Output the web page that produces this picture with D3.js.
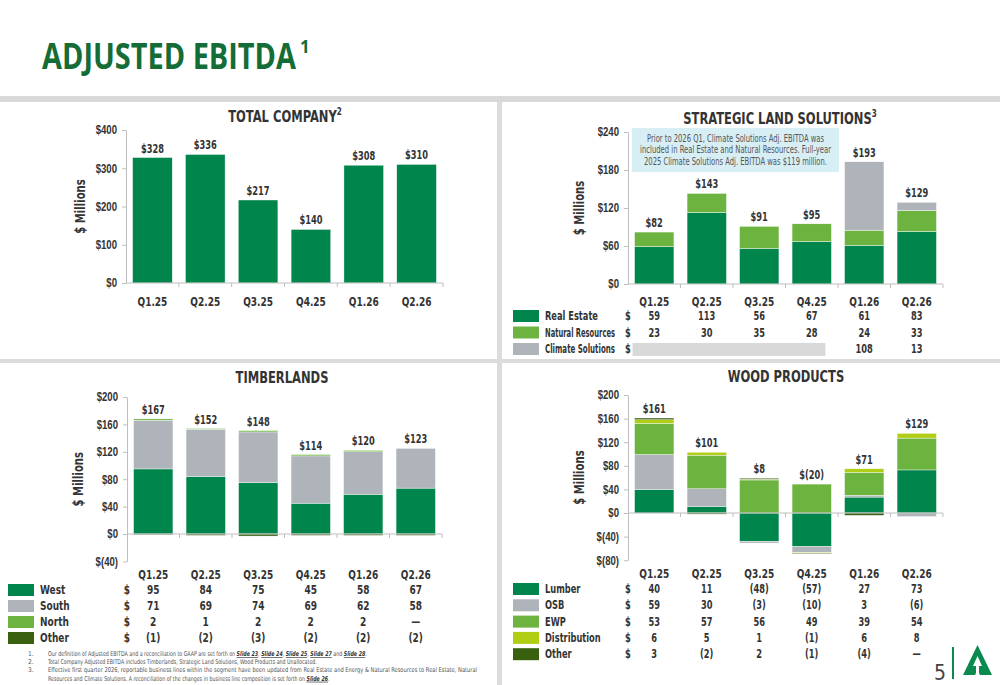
<!DOCTYPE html>
<html>
<head>
<meta charset="utf-8">
<script src="https://cdn.jsdelivr.net/npm/d3@7"></script>
<style>
  body { margin: 0; background: #fff; }
  svg { display: block; font-family: "DejaVu Sans Condensed", "Liberation Sans Narrow", "Open Sans", sans-serif; }
</style>
</head>
<body>
<div id="chart"></div>
<script>
//==================================//
// Data
//
const quarters = ['Q1.25', 'Q2.25', 'Q3.25', 'Q4.25', 'Q1.26', 'Q2.26'];

const totalCompany = [328, 336, 217, 140, 308, 310];

const slsRealEstate = [59, 113, 56, 67, 61, 83];
const slsNaturalRes = [23, 30, 35, 28, 24, 33];
const slsClimate = [null, null, null, null, 108, 13];
const slsTotals = [82, 143, 91, 95, 193, 129];

const tlWest = [95, 84, 75, 45, 58, 67];
const tlSouth = [71, 69, 74, 69, 62, 58];
const tlNorth = [2, 1, 2, 2, 2, 0];
const tlOther = [-1, -2, -3, -2, -2, -2];
const tlTotals = [167, 152, 148, 114, 120, 123];

const wpLumber = [40, 11, -48, -57, 27, 73];
const wpOSB = [59, 30, -3, -10, 3, -6];
const wpEWP = [53, 57, 56, 49, 39, 54];
const wpDistribution = [6, 5, 1, -1, 6, 8];
const wpOther = [3, -2, 2, -1, -4, 0];
const wpTotals = [161, 101, 8, -20, 71, 129];

const totalTicks = [0, 100, 200, 300, 400];
const slsTicks = [0, 60, 120, 180, 240];
const tlTicks = [-40, 0, 40, 80, 120, 160, 200];
const wpTicks = [-80, -40, 0, 40, 80, 120, 160, 200];

const C = {
    green: '#00854c',
    light: '#6cb33f',
    gray: '#aeb4b9',
    yellow: '#b2ce14',
    dark: '#38600e',
    text: '#333',
    axis: '#bfbfbf'
};

const SQUEEZE = 0.8;   // the slide uses a narrow face; DejaVu Condensed is still wider

const money = d => d < 0 ? '$(' + (-d) + ')' : '$' + d;
const cell = d => d == null ? '' : d === 0 ? '\u2014' : d < 0 ? '(' + (-d) + ')' : String(d);

//==================================//
// SVG + frame
//
const svg = d3.select('#chart').append('svg').attr('width', 1000).attr('height', 685);

svg.append('rect').attr('x', 0).attr('y', 96).attr('width', 1000).attr('height', 6).attr('fill', '#d9d9d9');
svg.append('rect').attr('x', 497).attr('y', 102).attr('width', 5).attr('height', 583).attr('fill', '#dcdcdc');
svg.append('rect').attr('x', 0).attr('y', 359).attr('width', 1000).attr('height', 4).attr('fill', '#dcdcdc');

svg.append('text').attr('class', 'fixed').attr('x', 42).attr('y', 69).attr('fill', '#146c37')
    .style('font-family', '"Open Sans", sans-serif').style('font-weight', 700).style('font-size', '35px')
    .attr('textLength', 254).attr('lengthAdjust', 'spacingAndGlyphs').text('ADJUSTED EBITDA');
svg.append('text').attr('class', 'fixed').attr('x', 300).attr('y', 53).attr('fill', '#146c37')
    .style('font-family', '"Open Sans", sans-serif').style('font-weight', 700).style('font-size', '17px').text('1');

//==================================//
// Panel helper
//
function panel(cfg) {
    const g = svg.append('g');

    const x = d3.scaleBand().domain(quarters).range([cfg.x0, cfg.x1]).paddingInner(0.25).paddingOuter(0.125);
    const y = d3.scaleLinear().domain([cfg.ticks[0], cfg.ticks[cfg.ticks.length - 1]]).range([cfg.yBottom, cfg.yTop]);

    // title
    const t = g.append('text').attr('x', cfg.titleX).attr('y', cfg.titleY).attr('text-anchor', 'middle')
        .attr('fill', C.text).style('font-size', '16px').style('font-weight', 700).text(cfg.title);
    if (cfg.sup) t.append('tspan').attr('dy', -7).style('font-size', '10px').text(cfg.sup);

    // y label
    g.append('text').attr('transform', 'translate(' + cfg.labelX + ',' + ((cfg.yTop + cfg.yBottom) / 2) + ') rotate(-90)')
        .attr('text-anchor', 'middle').attr('fill', C.text).style('font-size', '14px').style('font-weight', 700)
        .text('$ Millions');

    // y axis
    const ya = g.append('g').attr('transform', 'translate(' + cfg.x0 + ',0)')
        .call(d3.axisLeft(y).tickValues(cfg.ticks).tickFormat(money).tickSize(4).tickSizeOuter(0).tickPadding(5));
    ya.select('.domain').attr('stroke', C.axis);
    ya.selectAll('.tick line').attr('stroke', C.axis);
    ya.selectAll('.tick text').attr('fill', C.text).style('font-size', '12px').style('font-weight', 700).style('font-family', null);

    // bars
    const gap = (x.step() - x.bandwidth()) / 2;
    let tops;
    if (cfg.stacked) {
        const rows = quarters.map((q, i) => {
            const r = { q: q };
            cfg.series.forEach(s => { r[s.name] = s.values[i] || 0; });
            return r;
        });
        const stacked = d3.stack().keys(cfg.series.map(s => s.name)).offset(d3.stackOffsetDiverging)(rows);
        g.selectAll('g.layer').data(stacked).enter().append('g').attr('class', 'layer')
            .attr('fill', (d, i) => cfg.series[i].color)
            .selectAll('rect').data(d => d).enter().append('rect')
            .attr('x', d => x(d.data.q))
            .attr('width', x.bandwidth())
            .attr('y', d => y(Math.max(d[0], d[1])))
            .attr('height', d => Math.abs(y(d[0]) - y(d[1])))
            .attr('stroke', '#fff').attr('stroke-width', 0.4);
        tops = quarters.map((q, i) => d3.sum(cfg.series, s => Math.max(0, s.values[i] || 0)));
    } else {
        g.selectAll('rect.bar').data(cfg.values).enter().append('rect').attr('class', 'bar')
            .attr('x', (d, i) => x(quarters[i]))
            .attr('width', x.bandwidth())
            .attr('y', d => y(d))
            .attr('height', d => y(0) - y(d))
            .attr('fill', C.green).attr('stroke', '#fff').attr('stroke-width', 0.4);
        tops = cfg.values;
    }

    // x axis line at zero
    g.append('line').attr('x1', cfg.x0).attr('x2', cfg.x1).attr('y1', y(0)).attr('y2', y(0)).attr('stroke', C.axis);
    g.selectAll('line.xt').data(quarters.slice(1).map(q => x(q) - gap).concat([cfg.x1])).enter().append('line')
        .attr('class', 'xt').attr('x1', d => d).attr('x2', d => d).attr('y1', y(0)).attr('y2', y(0) + 4).attr('stroke', C.axis);

    // value labels
    g.selectAll('text.val').data(cfg.totals).enter().append('text').attr('class', 'val')
        .attr('x', (d, i) => x(quarters[i]) + x.bandwidth() / 2)
        .attr('y', (d, i) => y(tops[i]) - 5)
        .attr('text-anchor', 'middle').attr('fill', C.text).style('font-size', '11.5px').style('font-weight', 700)
        .text(money);

    // quarter header
    g.selectAll('text.q').data(quarters).enter().append('text').attr('class', 'q')
        .attr('x', d => x(d) + x.bandwidth() / 2).attr('y', cfg.headerY)
        .attr('text-anchor', 'middle').attr('fill', C.text).style('font-size', '12.5px').style('font-weight', 700)
        .text(d => d);

    // table
    if (cfg.series) {
        const labelX = cfg.swatchX + 32;
        const maxW = cfg.x0 - 13 - labelX;
        cfg.series.forEach((s, r) => {
            const ry = cfg.tableY + r * cfg.rowH;
            g.append('rect').attr('x', cfg.swatchX).attr('y', ry - 6).attr('width', 26).attr('height', 12).attr('fill', s.color);
            g.append('text').attr('class', 'fixed').attr('x', labelX).attr('y', ry + 4).attr('fill', C.text)
                .style('font-size', cfg.tableFont).style('font-weight', 700).text(s.name)
                .each(function () {
                    const w = Math.min(this.getComputedTextLength() * SQUEEZE, maxW);
                    d3.select(this).attr('textLength', w).attr('lengthAdjust', 'spacingAndGlyphs');
                });
            g.append('text').attr('x', cfg.x0).attr('y', ry + 4).attr('text-anchor', 'middle').attr('fill', C.text)
                .style('font-size', cfg.tableFont).style('font-weight', 700).text('$');
            if (s.placeholder) {
                g.append('rect').attr('x', x(quarters[0]) - 2).attr('y', ry - 6)
                    .attr('width', x(quarters[3]) + x.bandwidth() - 6 - x(quarters[0]) + 2).attr('height', 13)
                    .attr('fill', '#d9d9d9');
            }
            g.selectAll(null).data(s.values).enter().append('text')
                .attr('x', (d, i) => x(quarters[i]) + x.bandwidth() / 2).attr('y', ry + 4)
                .attr('text-anchor', 'middle').attr('fill', C.text).style('font-size', cfg.tableFont).style('font-weight', 700)
                .text(cell);
        });
    }
    return { g: g, x: x, y: y };
}

//==================================//
// Panels
//
panel({
    title: 'TOTAL COMPANY', sup: '2', titleX: 285, titleY: 122,
    x0: 126, x1: 443, yTop: 130, yBottom: 283, ticks: totalTicks, labelX: 85,
    values: totalCompany, totals: totalCompany, headerY: 306
});

const sls = panel({
    title: 'STRATEGIC LAND SOLUTIONS', sup: '3', titleX: 780, titleY: 124,
    x0: 628, x1: 943, yTop: 132, yBottom: 284, ticks: slsTicks, labelX: 584,
    stacked: true, totals: slsTotals, headerY: 306,
    series: [
        { name: 'Real Estate', values: slsRealEstate, color: C.green },
        { name: 'Natural Resources', values: slsNaturalRes, color: C.light },
        { name: 'Climate Solutions', values: slsClimate, color: C.gray, placeholder: true }
    ],
    swatchX: 513, tableY: 316, rowH: 16.5, tableFont: '11.5px'
});

// note box
sls.g.append('rect').attr('x', 632).attr('y', 128).attr('width', 207).attr('height', 44).attr('fill', '#d8eef5');
sls.g.selectAll('text.note').data([
    ['Prior to 2026 Q1, Climate Solutions Adj. EBITDA was', 177],
    ['included in Real Estate and Natural Resources. Full-year', 191],
    ['2025 Climate Solutions Adj. EBITDA was $119 million.', 183]
]).enter().append('text').attr('class', 'note fixed')
    .attr('x', 735.5).attr('y', (d, i) => 142 + i * 11.3).attr('text-anchor', 'middle')
    .attr('textLength', d => d[1]).attr('lengthAdjust', 'spacingAndGlyphs')
    .attr('fill', '#555').style('font-size', '10px').text(d => d[0]);

panel({
    title: 'TIMBERLANDS', titleX: 282, titleY: 383,
    x0: 127, x1: 442, yTop: 397, yBottom: 561.4, ticks: tlTicks, labelX: 83,
    stacked: true, totals: tlTotals, headerY: 579,
    series: [
        { name: 'West', values: tlWest, color: C.green },
        { name: 'South', values: tlSouth, color: C.gray },
        { name: 'North', values: tlNorth, color: C.light },
        { name: 'Other', values: tlOther, color: C.dark }
    ],
    swatchX: 8, tableY: 590, rowH: 16, tableFont: '12.5px'
});

panel({
    title: 'WOOD PRODUCTS', titleX: 786, titleY: 382,
    x0: 628, x1: 943, yTop: 395, yBottom: 560.2, ticks: wpTicks, labelX: 584,
    stacked: true, totals: wpTotals, headerY: 578,
    series: [
        { name: 'Lumber', values: wpLumber, color: C.green },
        { name: 'OSB', values: wpOSB, color: C.gray },
        { name: 'EWP', values: wpEWP, color: C.light },
        { name: 'Distribution', values: wpDistribution, color: C.yellow },
        { name: 'Other', values: wpOther, color: C.dark }
    ],
    swatchX: 513, tableY: 589, rowH: 16.3, tableFont: '11.5px'
});

//==================================//
// Footnotes (squeezed with a transform, since they mix tspans)
//
const notes = [
    { n: '1.', parts: [['Our definition of Adjusted EBITDA and a reconciliation to GAAP are set forth on ', 0], ['Slide 23', 1], [', ', 0], ['Slide 24', 1], [', ', 0], ['Slide 25', 1], [', ', 0], ['Slide 27', 1], [' and ', 0], ['Slide 28', 1], ['.', 0]] },
    { n: '2.', parts: [['Total Company Adjusted EBITDA includes Timberlands, Strategic Land Solutions, Wood Products and Unallocated.', 0]] },
    { n: '3.', parts: [['Effective first quarter 2026, reportable business lines within the segment have been updated from Real Estate and Energy & Natural Resources to Real Estate, Natural', 0]], fit: 429 },
    { n: '', parts: [['Resources and Climate Solutions. A reconciliation of the changes in business line composition is set forth on ', 0], ['Slide 26', 1], ['.', 0]] }
];
const gNotes = svg.append('g').attr('transform', 'translate(48,0) scale(' + SQUEEZE + ',1)');
notes.forEach((nt, i) => {
    const yy = 656 + i * 8.2;
    svg.append('text').attr('class', 'fixed').attr('x', 28).attr('y', yy).attr('fill', '#555').style('font-size', '6.6px').text(nt.n);
    const t = gNotes.append('text').attr('class', 'fixed').attr('x', 0).attr('y', yy).attr('fill', '#555').style('font-size', '6.6px');
    if (nt.fit) t.attr('textLength', nt.fit / SQUEEZE).attr('lengthAdjust', 'spacingAndGlyphs');
    nt.parts.forEach(p => {
        const ts = t.append('tspan').text(p[0]);
        if (p[1]) ts.style('font-weight', 700).style('font-style', 'italic').style('text-decoration', 'underline').attr('fill', '#333');
    });
});

//==================================//
// Page number + logo
//
svg.append('text').attr('class', 'fixed').attr('x', 940).attr('y', 680).attr('text-anchor', 'middle').attr('fill', '#444')
    .style('font-size', '21px').text('5');
svg.append('line').attr('x1', 953).attr('x2', 953).attr('y1', 647).attr('y2', 679).attr('stroke', '#0a8a4f').attr('stroke-width', 2);
const logo = svg.append('g').attr('transform', 'translate(963,645)');
logo.append('path').attr('d', 'M14.5,0 L29,30 L17,30 L14.5,25 L12,30 L0,30 Z').attr('fill', '#0a8a4f');
logo.append('path').attr('d', 'M14.5,11 L19,21 L16,21 L16,30 L13,30 L13,21 L10,21 Z').attr('fill', '#fff');

//====[ condense the remaining text ]====//
svg.selectAll('text:not(.fixed)').each(function () {
    const len = this.getComputedTextLength();
    if (len > 0) d3.select(this).attr('textLength', len * SQUEEZE).attr('lengthAdjust', 'spacingAndGlyphs');
});
</script>
</body>
</html>
